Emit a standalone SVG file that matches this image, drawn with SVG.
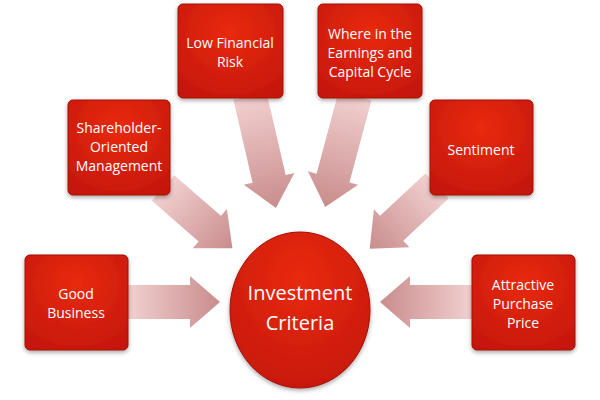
<svg xmlns="http://www.w3.org/2000/svg" width="600" height="400" viewBox="0 0 600 400">
<defs>
<linearGradient id="ag" x1="0" y1="0" x2="1" y2="0"><stop offset="0" stop-color="#f2d0d0"/><stop offset="1" stop-color="#c98c8c"/></linearGradient>
<radialGradient id="bg" cx="0.5" cy="0.3" r="0.8"><stop offset="0" stop-color="#e82a10"/><stop offset="1" stop-color="#c41608"/></radialGradient>
<filter id="sh" x="-20%" y="-20%" width="140%" height="140%"><feDropShadow dx="0" dy="2" stdDeviation="2" flood-color="#000" flood-opacity="0.35"/></filter>
</defs>
<style>
.box{fill:url(#bg);stroke:#a01005;stroke-width:1;filter:url(#sh)}
.t{font-family:"Open Sans","Liberation Sans",sans-serif;font-size:14px;fill:#fff;text-anchor:middle}
.arr{fill:url(#ag)}
</style>
<rect width="600" height="400" fill="#fff"/>
<g id="connectors">
<path class="arr" transform="translate(128,302)" d="M0,-17H62V-26L92,0L62,26V17H0Z"/>
<path class="arr" transform="translate(472,302) rotate(180)" d="M0,-17H62V-26L92,0L62,26V17H0Z"/>
<path class="arr" transform="translate(163,188) rotate(41)" d="M0,-17H62V-26L92,0L62,26V17H0Z"/>
<path class="arr" transform="translate(250,96) rotate(77)" d="M0,-17H85V-26L115,0L85,26V17H0Z"/>
<path class="arr" transform="translate(355,96) rotate(105)" d="M0,-17H85V-26L115,0L85,26V17H0Z"/>
<path class="arr" transform="translate(437,186) rotate(137)" d="M0,-17H62V-26L92,0L62,26V17H0Z"/>
</g>
<g id="center"><ellipse class="box" cx="300" cy="310" rx="70" ry="78"/>
<text class="t" style="font-size:20px" x="300" y="300">Investment</text><text class="t" style="font-size:20px" x="300" y="330">Criteria</text></g>
<g id="good"><rect class="box" x="25" y="255" width="103" height="95" rx="5"/><text class="t" x="76" y="299">Good</text><text class="t" x="76" y="318">Business</text></g>
<g id="share"><rect class="box" x="68" y="100" width="102" height="95" rx="5"/><text class="t" x="119" y="133">Shareholder-</text><text class="t" x="119" y="152">Oriented</text><text class="t" x="119" y="171">Management</text></g>
<g id="lowrisk"><rect class="box" x="178" y="4" width="105" height="94" rx="5"/><text class="t" x="230" y="48">Low Financial</text><text class="t" x="230" y="67">Risk</text></g>
<g id="where"><rect class="box" x="318" y="4" width="104" height="94" rx="5"/><text class="t" x="370" y="39">Where in the</text><text class="t" x="370" y="58">Earnings and</text><text class="t" x="370" y="77">Capital Cycle</text></g>
<g id="sentiment"><rect class="box" x="430" y="100" width="103" height="95" rx="5"/><text class="t" x="481" y="155">Sentiment</text></g>
<g id="price"><rect class="box" x="472" y="255" width="103" height="95" rx="5"/><text class="t" x="523" y="290">Attractive</text><text class="t" x="523" y="309">Purchase</text><text class="t" x="523" y="328">Price</text></g>
</svg>
